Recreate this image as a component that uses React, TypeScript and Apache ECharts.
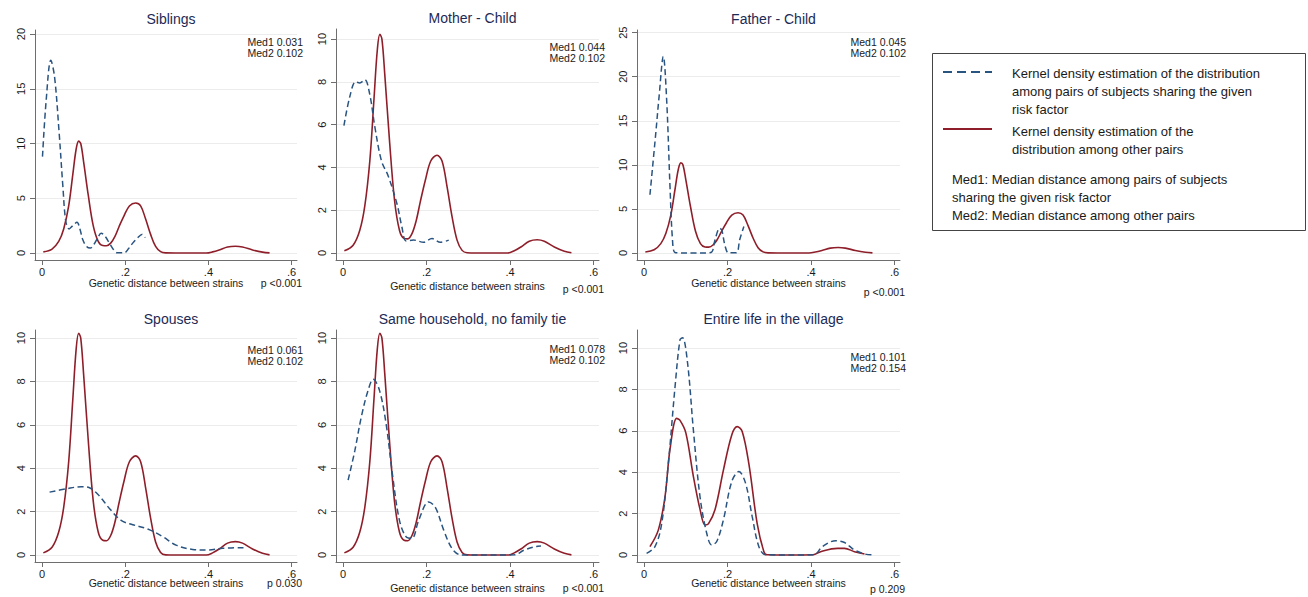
import React, { useEffect, useRef } from "react";
import * as echarts from "echarts";

// ---------- data ----------
const panelTitles = [
  "Siblings",
  "Mother - Child",
  "Father - Child",
  "Spouses",
  "Same household, no family tie",
  "Entire life in the village",
];
const med1Values = ["0.031", "0.044", "0.045", "0.061", "0.078", "0.101"];
const med2Values = ["0.102", "0.102", "0.102", "0.102", "0.102", "0.154"];
const pValues = ["p <0.001", "p <0.001", "p <0.001", "p 0.030", "p <0.001", "p 0.209"];
const xTickValues = [0, 0.2, 0.4, 0.6];
const yTicksSiblings = [0, 5, 10, 15, 20];
const yTicksFather = [0, 5, 10, 15, 20, 25];
const yTicksTen = [0, 2, 4, 6, 8, 10];
const xAxisTitle = "Genetic distance between strains";

// Kernel density among other pairs (same reference for panels 1-5)
const otherPairs: [number, number][] = [
  [0.003, 0.1], [0.024, 0.36], [0.04, 1.06], [0.052, 2.2], [0.064, 4.3], [0.074, 7.2],
  [0.082, 9.5], [0.088, 10.22], [0.093, 10.0], [0.1, 8.3], [0.111, 5.3], [0.123, 2.5],
  [0.135, 1.06], [0.146, 0.68], [0.155, 0.66], [0.165, 0.9], [0.175, 1.5], [0.185, 2.4],
  [0.197, 3.4], [0.21, 4.3], [0.225, 4.57], [0.237, 4.3], [0.249, 3.1], [0.261, 1.7],
  [0.273, 0.6], [0.285, 0.12], [0.297, 0.01], [0.32, 0], [0.36, 0], [0.395, 0],
  [0.41, 0.1], [0.426, 0.28], [0.446, 0.55], [0.465, 0.62], [0.482, 0.55], [0.506, 0.28],
  [0.53, 0.08], [0.547, 0.01],
];
const otherPairsVillage: [number, number][] = [
  [0.014, 0.4], [0.034, 1.2], [0.05, 2.8], [0.062, 5.1], [0.078, 6.6], [0.086, 6.5],
  [0.1, 5.9], [0.118, 3.8], [0.134, 2.2], [0.146, 1.45], [0.154, 1.5], [0.17, 2.2],
  [0.19, 4.1], [0.21, 5.8], [0.223, 6.2], [0.235, 5.97], [0.251, 4.4], [0.271, 1.5],
  [0.287, 0.16], [0.295, 0.01], [0.35, 0], [0.405, 0.01], [0.423, 0.16], [0.463, 0.32],
  [0.48, 0.32], [0.504, 0.16], [0.528, 0.05],
];

// Kernel density among pairs sharing the risk factor
const siblings: [number, number][] = [
  [0.001, 8.8], [0.01, 14], [0.021, 17.6], [0.03, 16.1], [0.041, 11], [0.05, 6.1],
  [0.057, 2.9], [0.065, 2.2], [0.074, 2.5], [0.084, 2.8], [0.091, 2.2], [0.098, 1.2],
  [0.107, 0.6], [0.116, 0.45], [0.125, 0.8], [0.134, 1.4], [0.142, 1.8], [0.15, 1.6],
  [0.162, 0.9], [0.172, 0.3], [0.18, 0.03], [0.198, 0.02], [0.208, 0.4], [0.218, 0.9],
  [0.23, 1.4], [0.24, 1.7], [0.248, 1.4],
];
const motherChild: [number, number][] = [
  [0.002, 5.95], [0.016, 7.3], [0.03, 8.0], [0.04, 7.95], [0.052, 8.1], [0.064, 7.4],
  [0.076, 5.9], [0.092, 4.3], [0.108, 3.6], [0.129, 2.3], [0.141, 1.2], [0.151, 0.56],
  [0.169, 0.6], [0.193, 0.5], [0.213, 0.67], [0.233, 0.5], [0.253, 0.6],
];
const fatherChild: [number, number][] = [
  [0.014, 6.6], [0.028, 13.6], [0.036, 17.8], [0.046, 22.3], [0.054, 17.4], [0.062, 7.6],
  [0.068, 1.5], [0.074, 0.05], [0.09, 0], [0.12, 0], [0.15, 0], [0.162, 0.1],
  [0.17, 1.5], [0.181, 2.8], [0.186, 2.6], [0.194, 0.8], [0.202, 0.02], [0.221, 0.02],
  [0.229, 1.5], [0.239, 3.0],
];
const spouses: [number, number][] = [
  [0.018, 2.9], [0.058, 3.05], [0.094, 3.15], [0.114, 3.1], [0.134, 2.8], [0.162, 2.15],
  [0.19, 1.6], [0.218, 1.4], [0.254, 1.2], [0.29, 0.85], [0.322, 0.46], [0.362, 0.26],
  [0.398, 0.23], [0.434, 0.31], [0.486, 0.34],
];
const household: [number, number][] = [
  [0.012, 3.45], [0.028, 4.8], [0.044, 6.4], [0.06, 7.6], [0.072, 8.1], [0.087, 7.6],
  [0.103, 6.05], [0.119, 3.6], [0.135, 1.6], [0.151, 0.84], [0.165, 0.77], [0.181, 1.6],
  [0.205, 2.45], [0.221, 2.2], [0.241, 1.15], [0.261, 0.3], [0.281, 0.01], [0.3, 0],
  [0.35, 0], [0.41, 0.01], [0.434, 0.23], [0.466, 0.41], [0.474, 0.42],
];
const village: [number, number][] = [
  [0.006, 0.08], [0.026, 0.4], [0.042, 1.5], [0.058, 4.4], [0.074, 8.1], [0.086, 10.4],
  [0.092, 10.5], [0.104, 9.3], [0.118, 6.05], [0.134, 2.8], [0.15, 1.05], [0.162, 0.48],
  [0.174, 0.65], [0.19, 1.7], [0.21, 3.55], [0.227, 4.03], [0.243, 3.47], [0.259, 1.85],
  [0.275, 0.4], [0.291, 0.01], [0.33, 0], [0.37, 0], [0.407, 0.01], [0.427, 0.4],
  [0.459, 0.69], [0.48, 0.6], [0.504, 0.24], [0.528, 0.05], [0.548, 0],
];

const sharingSeries = [siblings, motherChild, fatherChild, spouses, household, village];
const otherSeries = [otherPairs, otherPairs, otherPairs, otherPairs, otherPairs, otherPairsVillage];
const yTickSets = [yTicksSiblings, yTicksTen, yTicksFather, yTicksTen, yTicksTen, yTicksTen];

const legendLines = [
  "Kernel density estimation of the distribution",
  "among pairs of subjects sharing the given",
  "risk factor",
];
const legendLines2 = ["Kernel density estimation of the", "distribution among other pairs"];
const legendNotes = [
  "Med1: Median distance among pairs of subjects",
  "sharing the given risk factor",
  "Med2: Median distance among other pairs",
];

// ---------- layout (pixels) ----------
const layout = [
  { l: 35, r: 297, t: 30, b: 260, yMin: -0.64, yMax: 20.37, medY: 42, labY: 283, pY: 283 },
  { l: 336, r: 599, t: 29, b: 260, yMin: -0.33, yMax: 10.47, medY: 47, labY: 286, pY: 289 },
  { l: 637, r: 900, t: 30, b: 260, yMin: -0.8, yMax: 25.3, medY: 42, labY: 283, pY: 292 },
  { l: 35, r: 297, t: 330, b: 562, yMin: -0.32, yMax: 10.37, medY: 350, labY: 583, pY: 583 },
  { l: 336, r: 599, t: 330, b: 562, yMin: -0.32, yMax: 10.37, medY: 349, labY: 588, pY: 588 },
  { l: 637, r: 900, t: 330, b: 562, yMin: -0.34, yMax: 10.87, medY: 357, labY: 583, pY: 589 },
];

const FONT = "'Liberation Sans', Arial, Helvetica, sans-serif";
const RED = "#8e1f2a";
const BLUE = "#2a5480";
const AXIS = "#6e6e6e";
const TXT = "#1a1a1a";
const TITLE = "#1c2a55";

function fmtX(v: number) {
  if (v === 0) return "0";
  return String(Math.round(v * 10) / 10).replace(/^0/, "");
}

export default function App() {
  const ref = useRef<HTMLDivElement>(null);
  useEffect(() => {
    if (!ref.current) return;
    const chart = echarts.init(ref.current, undefined, { renderer: "svg" });

    const grids: any[] = [];
    const xAxes: any[] = [];
    const yAxes: any[] = [];
    const series: any[] = [];
    const titles: any[] = [];
    const graphics: any[] = [];

    layout.forEach((p, i) => {
      grids.push({ left: p.l, top: p.t, width: p.r - p.l, height: p.b - p.t, containLabel: false });
      xAxes.push({
        type: "value",
        gridIndex: i,
        min: -0.017,
        max: 0.613,
        axisLine: { show: true, onZero: false, lineStyle: { color: AXIS, width: 1 } },
        axisTick: { show: true, length: 5, customValues: xTickValues, lineStyle: { color: AXIS } },
        axisLabel: {
          show: true,
          customValues: xTickValues,
          formatter: (v: number) => fmtX(v),
          color: TXT,
          fontFamily: FONT,
          fontSize: 11,
          margin: 6,
        },
        splitLine: { show: false },
      });
      yAxes.push({
        type: "value",
        gridIndex: i,
        min: p.yMin,
        max: p.yMax,
        axisLine: { show: true, onZero: false, lineStyle: { color: AXIS, width: 1 } },
        axisTick: { show: true, length: 5, customValues: yTickSets[i], lineStyle: { color: AXIS } },
        axisLabel: {
          show: true,
          customValues: yTickSets[i],
          rotate: 90,
          color: TXT,
          fontFamily: FONT,
          fontSize: 11,
          margin: 9,
        },
        splitLine: { show: true, lineStyle: { color: "#ececec", width: 1 } },
      });
      series.push({
        type: "line",
        xAxisIndex: i,
        yAxisIndex: i,
        data: otherSeries[i],
        showSymbol: false,
        smooth: 0.35,
        z: 2,
        lineStyle: { color: RED, width: 1.6 },
      });
      series.push({
        type: "line",
        xAxisIndex: i,
        yAxisIndex: i,
        data: sharingSeries[i],
        showSymbol: false,
        smooth: 0.35,
        z: 3,
        lineStyle: { color: BLUE, width: 1.5, type: [6, 3.5] },
      });
      titles.push({
        text: panelTitles[i],
        left: (p.l + p.r) / 2,
        top: p.t - 23,
        textAlign: "center",
        textStyle: { color: TITLE, fontFamily: FONT, fontSize: 14, fontWeight: "normal" },
      });
      graphics.push({
        type: "text",
        x: p.r + 6,
        y: p.medY - 6,
        z: 10,
        style: {
          text: "Med1 " + med1Values[i] + "\nMed2 " + med2Values[i],
          align: "right",
          verticalAlign: "top",
          fill: TXT,
          font: `10.5px ${FONT}`,
          lineHeight: 11.5,
        },
      });
      graphics.push({
        type: "text",
        x: (p.l + p.r) / 2,
        y: p.labY,
        style: {
          text: xAxisTitle,
          align: "center",
          verticalAlign: "middle",
          fill: TXT,
          font: `10.5px ${FONT}`,
        },
      });
      graphics.push({
        type: "text",
        x: p.r + 5,
        y: p.pY,
        style: {
          text: pValues[i],
          align: "right",
          verticalAlign: "middle",
          fill: TXT,
          font: `10.5px ${FONT}`,
        },
      });
    });

    // legend box
    graphics.push({
      type: "rect",
      shape: { x: 932.5, y: 53.5, width: 373, height: 177 },
      style: { fill: "#fff", stroke: "#444", lineWidth: 1 },
    });
    graphics.push({
      type: "line",
      shape: { x1: 943, y1: 72, x2: 992, y2: 72 },
      style: { stroke: BLUE, lineWidth: 2, lineDash: [9, 5] },
    });
    graphics.push({
      type: "line",
      shape: { x1: 943, y1: 129, x2: 992, y2: 129 },
      style: { stroke: RED, lineWidth: 2 },
    });
    legendLines.forEach((t, k) => {
      graphics.push({
        type: "text",
        x: 1012,
        y: 73 + k * 18,
        style: { text: t, fill: TXT, font: `13px ${FONT}`, verticalAlign: "middle" },
      });
    });
    legendLines2.forEach((t, k) => {
      graphics.push({
        type: "text",
        x: 1012,
        y: 131 + k * 18,
        style: { text: t, fill: TXT, font: `13px ${FONT}`, verticalAlign: "middle" },
      });
    });
    legendNotes.forEach((t, k) => {
      graphics.push({
        type: "text",
        x: 952,
        y: 179 + k * 18,
        style: { text: t, fill: TXT, font: `13px ${FONT}`, verticalAlign: "middle" },
      });
    });

    chart.setOption({
      animation: false,
      backgroundColor: "#ffffff",
      title: titles,
      grid: grids,
      xAxis: xAxes,
      yAxis: yAxes,
      series,
      graphic: graphics,
    });
    return () => chart.dispose();
  }, []);

  return (
    <div
      ref={ref}
      style={{ position: "fixed", left: 0, top: 0, width: 1308, height: 597, background: "#fff" }}
    />
  );
}
